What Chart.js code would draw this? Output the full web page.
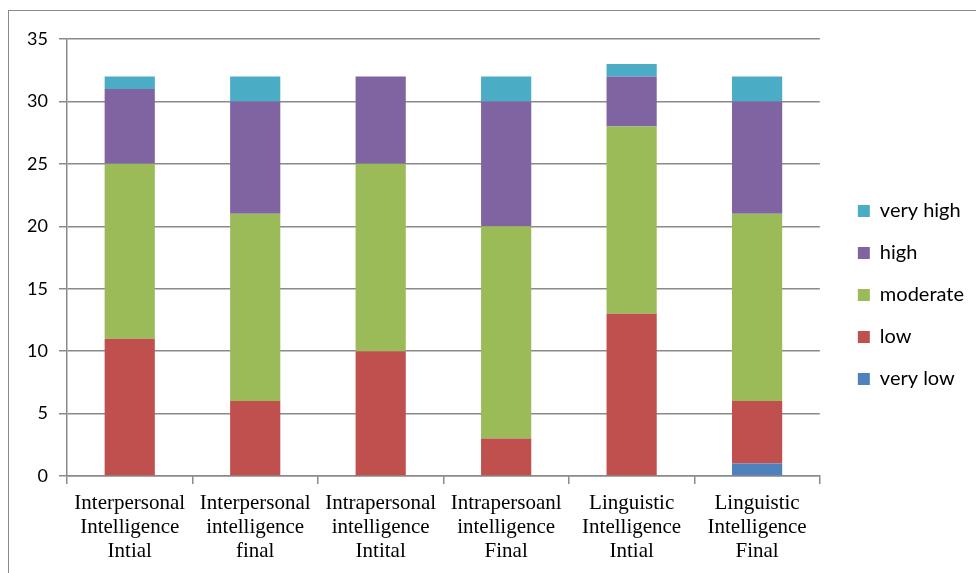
<!DOCTYPE html>
<html>
<head>
<meta charset="utf-8">
<script src="https://cdn.jsdelivr.net/npm/chart.js@4"></script>
<style>
  html, body { margin: 0; padding: 0; background: #fff; }
  #wrap { position: relative; width: 976px; height: 573px; }
  #frame { position: absolute; left: 8px; top: 10px; right: -2px; bottom: -2px; border: 1px solid #8a8a8a; }
  canvas { position: absolute; left: 0; top: 0; }
</style>
</head>
<body>
<div id="wrap">
  <div id="frame"></div>
  <canvas id="chart" width="976" height="573"></canvas>
</div>
<script>
const categories = [
  ['Interpersonal', 'Intelligence', 'Intial'],
  ['Interpersonal', 'intelligence', 'final'],
  ['Intrapersonal', 'intelligence', 'Intital'],
  ['Intrapersoanl', 'intelligence', 'Final'],
  ['Linguistic', 'Intelligence', 'Intial'],
  ['Linguistic', 'Intelligence', 'Final']
];
const veryLow  = [0, 0, 0, 0, 0, 1];
const low      = [11, 6, 10, 3, 13, 5];
const moderate = [14, 15, 15, 17, 15, 15];
const high     = [6, 9, 7, 10, 4, 9];
const veryHigh = [1, 2, 0, 2, 1, 2];
const yTicks = [0, 5, 10, 15, 20, 25, 30, 35];

const gridColor = '#8a8a8a';

// nudge the legend box a little right and up, like the original
const legendNudge = {
  id: 'legendNudge',
  afterLayout(chart) {
    const lg = chart.legend;
    lg.left += 16; lg.right += 16;
    lg.top -= 11; lg.bottom -= 11;
  }
};

const ctx = document.getElementById('chart').getContext('2d');
new Chart(ctx, {
  type: 'bar',
  data: {
    labels: categories,
    datasets: [
      { label: 'very low', data: veryLow, backgroundColor: '#4f81bd' },
      { label: 'low', data: low, backgroundColor: '#c0504d' },
      { label: 'moderate', data: moderate, backgroundColor: '#9bbb59' },
      { label: 'high', data: high, backgroundColor: '#8064a2' },
      { label: 'very high', data: veryHigh, backgroundColor: '#4bacc6' }
    ]
  },
  plugins: [legendNudge],
  options: {
    responsive: false,
    animation: false,
    layout: { padding: { top: 39, left: 0, bottom: 0, right: 18 } },
    datasets: { bar: { categoryPercentage: 1, barPercentage: 0.4, borderWidth: 0 } },
    plugins: {
      tooltip: { enabled: false },
      legend: {
        position: 'right',
        reverse: true,
        labels: {
          boxWidth: 12,
          boxHeight: 12,
          padding: 22,
          color: '#000',
          font: { family: 'Lato', size: 20 }
        }
      }
    },
    scales: {
      x: {
        stacked: true,
        afterFit: s => { s.height = 97; },
        grid: { offset: true, drawOnChartArea: false, color: gridColor, lineWidth: 1.5, tickLength: 8 },
        border: { color: gridColor, width: 1.5 },
        ticks: {
          color: '#000',
          padding: 8,
          maxRotation: 0,
          autoSkip: false,
          font: { family: 'Liberation Serif', size: 21, lineHeight: 1.14 }
        }
      },
      y: {
        stacked: true,
        min: 0,
        max: 35,
        afterFit: s => { s.width = 67; },
        afterBuildTicks: s => { s.ticks = yTicks.map(v => ({ value: v })); },
        grid: { color: gridColor, lineWidth: 1.5, tickLength: 8 },
        border: { color: gridColor, width: 1.5 },
        ticks: {
          color: '#000',
          padding: 11,
          font: { family: 'Lato', size: 18 }
        }
      }
    }
  }
});
</script>
</body>
</html>
